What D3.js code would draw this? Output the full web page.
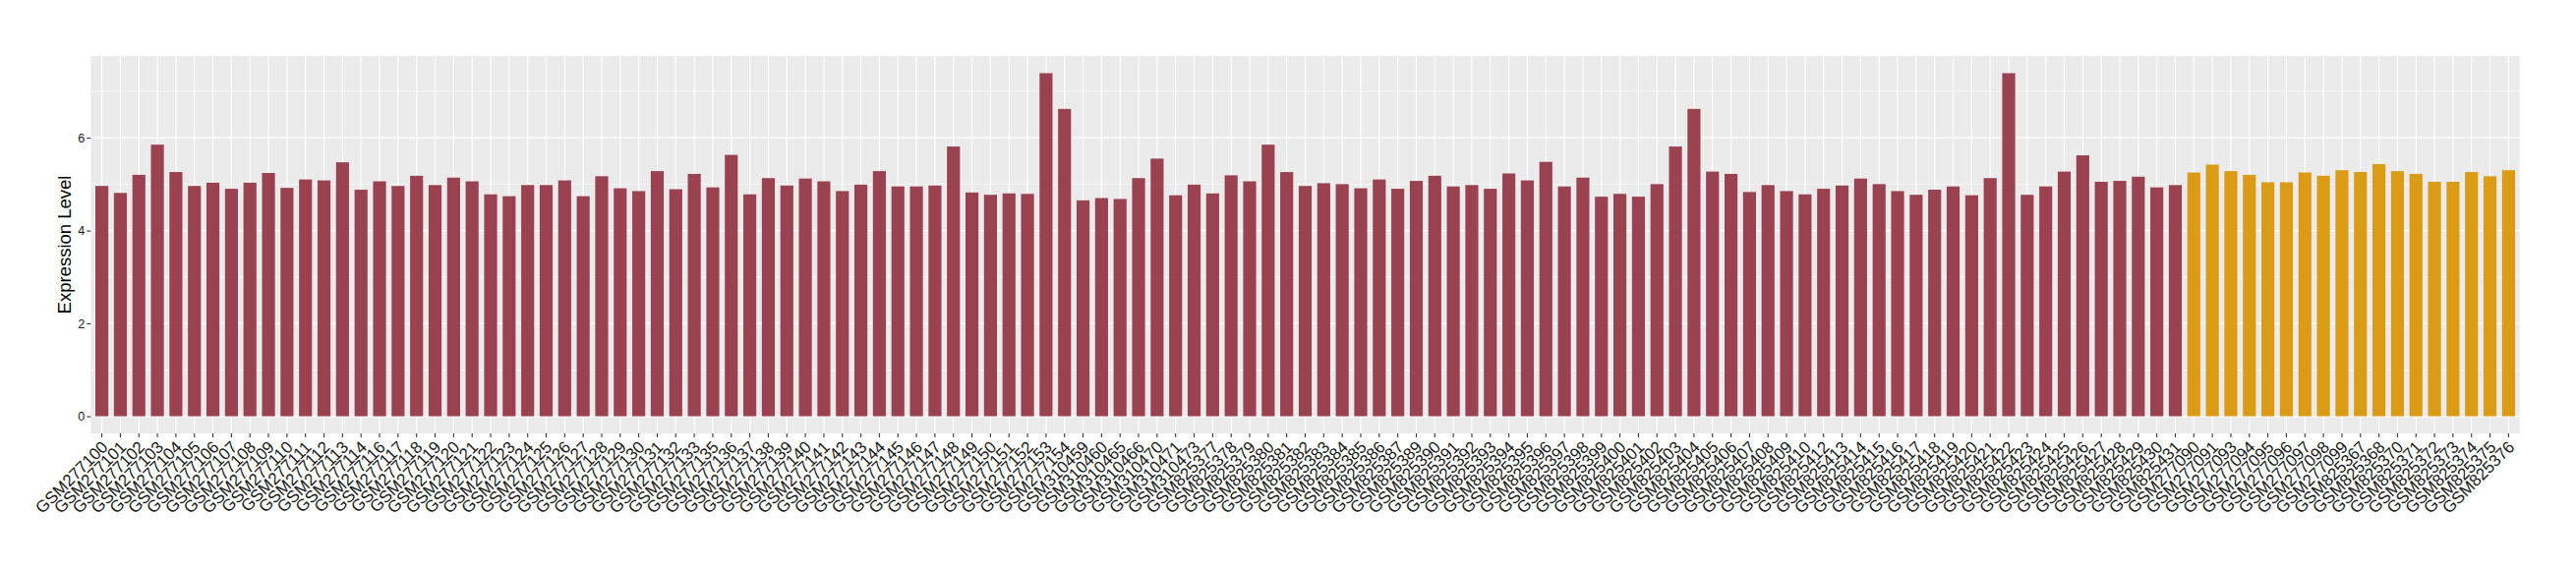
<!DOCTYPE html>
<html>
<head>
<meta charset="utf-8">
<script src="https://cdn.jsdelivr.net/npm/d3@7"></script>
<style>
  html, body { margin: 0; padding: 0; background: #fff; }
  svg { display: block; }
</style>
</head>
<body>
<svg id="chart" width="2620" height="580"></svg>
<script>
// ---- DATA ----
const samples = [
  "GSM277100","GSM277101","GSM277102","GSM277103","GSM277104","GSM277105","GSM277106","GSM277107","GSM277108","GSM277109",
  "GSM277110","GSM277111","GSM277112","GSM277113","GSM277114","GSM277116","GSM277117","GSM277118","GSM277119","GSM277120",
  "GSM277121","GSM277122","GSM277123","GSM277124","GSM277125","GSM277126","GSM277127","GSM277128","GSM277129","GSM277130",
  "GSM277131","GSM277132","GSM277133","GSM277135","GSM277136","GSM277137","GSM277138","GSM277139","GSM277140","GSM277141",
  "GSM277142","GSM277143","GSM277144","GSM277145","GSM277146","GSM277147","GSM277148","GSM277149","GSM277150","GSM277151",
  "GSM277152","GSM277153","GSM277154","GSM310459","GSM310460","GSM310465","GSM310466","GSM310470","GSM310471","GSM310473",
  "GSM825377","GSM825378","GSM825379","GSM825380","GSM825381","GSM825382","GSM825383","GSM825384","GSM825385","GSM825386",
  "GSM825387","GSM825389","GSM825390","GSM825391","GSM825392","GSM825393","GSM825394","GSM825395","GSM825396","GSM825397",
  "GSM825398","GSM825399","GSM825400","GSM825401","GSM825402","GSM825403","GSM825404","GSM825405","GSM825406","GSM825407",
  "GSM825408","GSM825409","GSM825410","GSM825412","GSM825413","GSM825414","GSM825415","GSM825416","GSM825417","GSM825418",
  "GSM825419","GSM825420","GSM825421","GSM825422","GSM825423","GSM825424","GSM825425","GSM825426","GSM825427","GSM825428",
  "GSM825429","GSM825430","GSM825431",
  "GSM277090","GSM277091","GSM277093","GSM277094","GSM277095","GSM277096","GSM277097","GSM277098","GSM277099",
  "GSM825367","GSM825368","GSM825370","GSM825371","GSM825372","GSM825373","GSM825374","GSM825375","GSM825376"
];
const expression = [
  4.96,4.81,5.20,5.85,5.26,4.96,5.03,4.90,5.03,5.24,
  4.92,5.10,5.08,5.47,4.88,5.06,4.96,5.18,4.98,5.14,
  5.06,4.78,4.74,4.98,4.98,5.08,4.74,5.17,4.91,4.85,
  5.28,4.89,5.22,4.93,5.63,4.78,5.13,4.97,5.12,5.06,
  4.85,4.99,5.28,4.95,4.95,4.97,5.81,4.82,4.77,4.80,
  4.79,7.39,6.62,4.65,4.70,4.68,5.13,5.55,4.76,4.99,
  4.80,5.19,5.06,5.85,5.26,4.96,5.02,5.00,4.91,5.10,
  4.90,5.07,5.18,4.95,4.98,4.90,5.23,5.08,5.48,4.95,
  5.14,4.73,4.79,4.73,5.00,5.81,6.62,5.27,5.22,4.83,
  4.98,4.85,4.78,4.90,4.97,5.12,5.00,4.85,4.77,4.88,
  4.95,4.76,5.13,7.39,4.77,4.95,5.27,5.62,5.05,5.07,
  5.16,4.93,4.98,
  5.25,5.42,5.28,5.20,5.04,5.04,5.25,5.18,5.30,
  5.26,5.43,5.28,5.22,5.05,5.05,5.26,5.17,5.30
];
// group of each sample: first 113 one group, last 18 the other
const groups = ["A","B"];
const groupSizes = [113, 18];
const groupColors = ["#9B4250", "#DC9B14"];
const yTicks = [0, 2, 4, 6];
const yMinor = [1, 3, 5, 7];
const yTitle = "Expression Level";

// ---- BUILD ----
const groupOf = [];
groupSizes.forEach((n, gi) => { for (let k = 0; k < n; k++) groupOf.push(groups[gi]); });
const data = samples.map((s, i) => ({ s, v: expression[i], g: groupOf[i] }));

const svg = d3.select("#chart");
const P = { left: 92.3, right: 2562.7, top: 57, bottom: 441 };

const vmax = d3.max(expression);
const y = d3.scaleLinear()
  .domain([-0.05 * vmax, vmax * 1.05])
  .range([P.bottom, P.top]);

const x = d3.scaleBand()
  .domain(samples)
  .range([P.left, P.right])
  .paddingInner(0.3)
  .paddingOuter(0.25);

const color = d3.scaleOrdinal().domain(groups).range(groupColors);

// panel background
svg.append("rect")
  .attr("x", P.left).attr("y", P.top)
  .attr("width", P.right - P.left).attr("height", P.bottom - P.top)
  .attr("fill", "#EBEBEB");

// minor grid
svg.append("g").selectAll("line").data(yMinor).join("line")
  .attr("x1", P.left).attr("x2", P.right)
  .attr("y1", d => y(d)).attr("y2", d => y(d))
  .attr("stroke", "#fff").attr("stroke-width", 0.6);

// major grid
svg.append("g").selectAll("line").data(yTicks).join("line")
  .attr("x1", P.left).attr("x2", P.right)
  .attr("y1", d => y(d)).attr("y2", d => y(d))
  .attr("stroke", "#fff").attr("stroke-width", 1.2);

svg.append("g").selectAll("line").data(samples).join("line")
  .attr("x1", d => x(d) + x.bandwidth() / 2).attr("x2", d => x(d) + x.bandwidth() / 2)
  .attr("y1", P.top).attr("y2", P.bottom)
  .attr("stroke", "#fff").attr("stroke-width", 1.2);

// bars
svg.append("g").selectAll("rect").data(data).join("rect")
  .attr("x", d => x(d.s))
  .attr("width", x.bandwidth())
  .attr("y", d => y(d.v))
  .attr("height", d => y(0) - y(d.v))
  .attr("fill", d => color(d.g));

// y axis
const yAxis = d3.axisLeft(y).tickValues(yTicks).tickSize(4).tickPadding(2).tickFormat(d3.format("d"));
const gy = svg.append("g").attr("transform", `translate(${P.left},0)`).call(yAxis);
gy.select(".domain").remove();
gy.selectAll(".tick line").attr("stroke", "#333").attr("stroke-width", 1.1);
gy.selectAll(".tick text")
  .attr("font-family", "Liberation Sans, Arial, sans-serif")
  .attr("font-size", 12.6).attr("fill", "#1a1a1a");

// x axis
const xAxis = d3.axisBottom(x).tickSize(4).tickPadding(2);
const gx = svg.append("g").attr("transform", `translate(0,${P.bottom})`).call(xAxis);
gx.select(".domain").remove();
gx.selectAll(".tick line").attr("stroke", "#333").attr("stroke-width", 1.1);
gx.selectAll(".tick text")
  .attr("font-family", "Liberation Sans, Arial, sans-serif")
  .attr("font-size", 17).attr("fill", "#1a1a1a")
  .attr("text-anchor", "end")
  .attr("y", 0).attr("x", 0).attr("dy", 0)
  .attr("transform", "translate(7,15) rotate(-45)");

// y title
svg.append("text")
  .attr("transform", `translate(71.5,${(P.top + P.bottom) / 2}) rotate(-90)`)
  .attr("text-anchor", "middle")
  .attr("font-family", "Liberation Sans, Arial, sans-serif")
  .attr("font-size", 18.5).attr("fill", "#000")
  .text(yTitle);
</script>
</body>
</html>
